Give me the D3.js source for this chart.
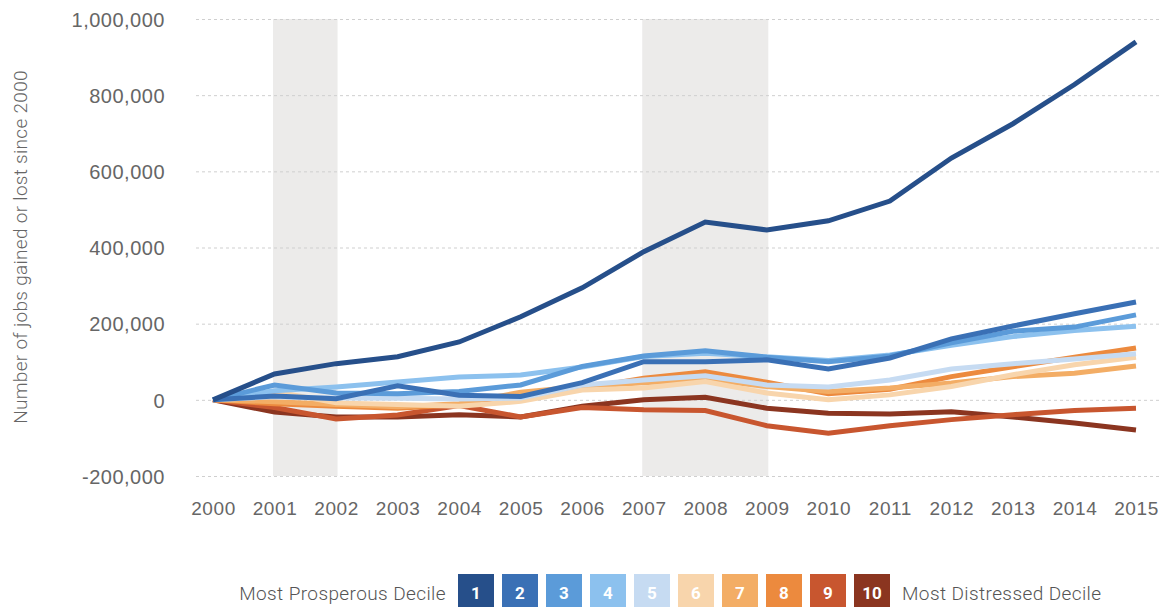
<!DOCTYPE html>
<html>
<head>
<meta charset="utf-8">
<script src="https://d3js.org/d3.v7.min.js"></script>
<style>
  body { margin: 0; background: #fff; }
  svg { display: block; font-family: Roboto, "Liberation Sans", sans-serif; font-weight: 300; }
  .tick text { fill: #666; }
  .grid line { stroke: #cfcfcf; stroke-dasharray: 3,3; }
</style>
</head>
<body>
<svg id="chart" width="1166" height="607"></svg>
<script>
// jobs gained or lost since 2000, by decile
var years = [2000, 2001, 2002, 2003, 2004, 2005, 2006, 2007, 2008, 2009, 2010, 2011, 2012, 2013, 2014, 2015];

var decile1  = [0, 68000, 95000, 113000, 152000, 218000, 294000, 389000, 467000, 446000, 470000, 522000, 635000, 725000, 828000, 940000];
var decile2  = [0, 10000, 3000, 37000, 12000, 9000, 45000, 100000, 100000, 105000, 81000, 110000, 160000, 194000, 226000, 257000];
var decile3  = [0, 39000, 18000, 16000, 22000, 39000, 88000, 115000, 129000, 112000, 100000, 115000, 150000, 180000, 191000, 223000];
var decile4  = [0, 24000, 34000, 47000, 60000, 65000, 86000, 114000, 122000, 113000, 103000, 118000, 143000, 166000, 182000, 193000];
var decile5  = [0, 8000, 5000, 4000, 2000, 5000, 39000, 52000, 63000, 39000, 34000, 52000, 81000, 95000, 107000, 121000];
var decile6  = [0, 22000, -8000, -12000, -17000, -4000, 26000, 31000, 48000, 18000, 0, 13000, 35000, 66000, 92000, 112000];
var decile7  = [0, -5000, -12000, -18000, -10000, 20000, 35000, 45000, 55000, 35000, 22000, 31000, 44000, 61000, 70000, 89000];
var decile8  = [0, -10000, -17000, -22000, -13000, 15000, 30000, 57000, 74000, 46000, 16000, 28000, 61000, 87000, 112000, 136000];
var decile9  = [0, -20000, -50000, -40000, -15000, -45000, -20000, -26000, -28000, -68000, -88000, -68000, -52000, -39000, -28000, -22000];
var decile10 = [0, -32000, -45000, -45000, -39000, -45000, -17000, 0, 7000, -22000, -35000, -37000, -31000, -45000, -61000, -79000];

var deciles = ["1", "2", "3", "4", "5", "6", "7", "8", "9", "10"];
var seriesValues = [decile1, decile2, decile3, decile4, decile5, decile6, decile7, decile8, decile9, decile10];
var colors = ["#264f8a", "#3a70b5", "#5b9bd9", "#8cc1ee", "#c6dbf2", "#f8d5ac", "#f3ad65", "#ec8a3e", "#c8562f", "#8b3520"];

var recessions = [[2001, 2002], [2007, 2009]];
var yTicks = [-200000, 0, 200000, 400000, 600000, 800000, 1000000];

var svg = d3.select("#chart");

var x = d3.scaleLinear().domain([2000, 2015]).range([213, 1136]);
var y = d3.scaleLinear().domain([-200000, 1000000]).range([476, 19]);

var fmt = d3.format(",");

// recession bands
svg.append("g")
  .selectAll("rect")
  .data(recessions)
  .enter()
  .append("rect")
  .attr("x", function(d) { return x(d[0]) - 1.5; })
  .attr("width", function(d) { return x(d[1]) - x(d[0]) + 3; })
  .attr("y", y(1000000))
  .attr("height", y(-200000) - y(1000000))
  .style("fill", "#ecebea");

// gridlines
svg.append("g")
  .attr("class", "grid")
  .attr("transform", "translate(196,0)")
  .call(d3.axisLeft(y).tickValues(yTicks).tickSize(-966).tickFormat(""))
  .call(function(g) { g.select(".domain").remove(); });

// y labels (plain hyphen for negatives, as in the original)
svg.append("g")
  .attr("transform", "translate(165,0)")
  .call(d3.axisLeft(y).tickValues(yTicks).tickSize(0).tickPadding(0)
    .tickFormat(function(d) { return fmt(d).replace("\u2212", "-"); }))
  .call(function(g) {
    g.select(".domain").remove();
    g.selectAll("text").style("font-size", "20px").style("letter-spacing", "0.5px").attr("dy", "0.36em");
  });

// x labels
svg.append("g")
  .attr("transform", "translate(0,501)")
  .call(d3.axisBottom(x).tickValues(years).tickSize(0).tickPadding(0).tickFormat(d3.format("d")))
  .call(function(g) {
    g.select(".domain").remove();
    g.selectAll("text").style("font-size", "19px").style("letter-spacing", "0.6px").attr("dy", "0.71em");
  });

// axis title
svg.append("text")
  .attr("transform", "translate(27,247) rotate(-90)")
  .attr("text-anchor", "middle")
  .style("font-size", "19px")
  .style("letter-spacing", "0.3px")
  .style("fill", "#666")
  .text("Number of jobs gained or lost since 2000");

// lines, most distressed first so decile 1 sits on top
var line = d3.line()
  .x(function(d, i) { return x(years[i]); })
  .y(function(d) { return y(d); });

svg.append("g")
  .selectAll("path")
  .data(d3.range(deciles.length).reverse())
  .enter()
  .append("path")
  .attr("d", function(i) { return line(seriesValues[i]); })
  .style("fill", "none")
  .style("stroke", function(i) { return colors[i]; })
  .style("stroke-width", 5)
  .style("stroke-linejoin", "miter");

// legend
const boxW = 36;
const boxPitch = 44;
var legend = svg.append("g").attr("transform", "translate(458,574)");

legend.append("text")
  .attr("x", -12)
  .attr("y", 19)
  .attr("dy", "0.35em")
  .attr("text-anchor", "end")
  .style("font-size", "19px")
  .style("letter-spacing", "0.4px")
  .style("fill", "#555")
  .text("Most Prosperous Decile");

var item = legend.selectAll("g.legenditem")
  .data(deciles)
  .enter()
  .append("g")
  .attr("class", "legenditem")
  .attr("transform", function(d, i) { return "translate(" + (i * boxPitch) + ",0)"; });

item.append("rect")
  .attr("width", boxW)
  .attr("height", 34)
  .style("fill", function(d, i) { return colors[i]; });

item.append("text")
  .attr("x", boxW / 2)
  .attr("y", 19)
  .attr("dy", "0.35em")
  .attr("text-anchor", "middle")
  .style("font-size", "17px")
  .style("font-weight", "700")
  .style("fill", "#fff")
  .text(function(d) { return d; });

legend.append("text")
  .attr("x", 9 * boxPitch + boxW + 12)
  .attr("y", 19)
  .attr("dy", "0.35em")
  .style("font-size", "19px")
  .style("letter-spacing", "0.4px")
  .style("fill", "#555")
  .text("Most Distressed Decile");
</script>
</body>
</html>
